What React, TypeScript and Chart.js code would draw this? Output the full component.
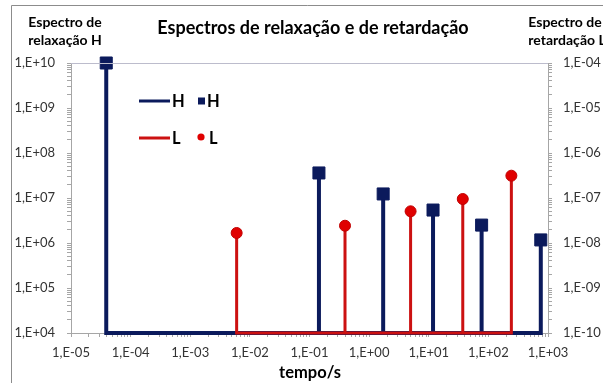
import React, { useEffect, useRef } from 'react';
import { Chart, registerables } from 'chart.js';

Chart.register(...registerables);

// ---- Data ----
const hTimes = [3.9e-5, 0.144, 1.72, 11.8, 77, 757];
const hValues = [1e10, 3.6e7, 1.23e7, 5.4e6, 2.5e6, 1.17e6];
const lTimes = [6.0e-3, 0.394, 4.96, 37.2, 243];
const lValues = [1.67e-8, 2.42e-8, 5.06e-8, 9.5e-8, 3.13e-7];
const hBase = 1e4;
const lBase = 1e-10;

const xExponents = [-5, -4, -3, -2, -1, 0, 1, 2, 3];
const yLeftExponents = [4, 5, 6, 7, 8, 9, 10];
const yRightExponents = [-10, -9, -8, -7, -6, -5, -4];

const titleText = 'Espectros de relaxação e de retardação';
const leftAxisTitle = ['Espectro de', 'relaxação H'];
const rightAxisTitle = ['Espectro de', 'retardação L'];
const xAxisTitle = 'tempo/s';
const legendLabels = ['H', 'H', 'L', 'L'];

const BLUE = '#0B1A5C';
const RED = '#CC1111';
const RED_MARK = '#E00000';
const AXIS = '#A6A6A6';
const FONT = 'Lato, "Open Sans", sans-serif';

function sciLabel(exp: number): string {
  return '1,E' + (exp < 0 ? '-' : '+') + String(Math.abs(exp)).padStart(2, '0');
}

function buildLogTicks(exps: number[]) {
  const ticks: { value: number; major?: boolean }[] = [];
  exps.forEach((e, i) => {
    ticks.push({ value: Number('1e' + e), major: true });
    if (i < exps.length - 1) {
      for (let m = 2; m <= 9; m++) ticks.push({ value: Number(m + 'e' + e) });
    }
  });
  return ticks;
}

function labelFor(value: number): string {
  const l = Math.log10(value);
  const r = Math.round(l);
  return Math.abs(l - r) < 1e-9 ? sciLabel(r) : '';
}

function stem(times: number[], values: number[], base: number) {
  return times.flatMap((t, i) => [
    { x: t, y: base },
    { x: t, y: values[i] },
    { x: t, y: base },
  ]);
}

const decorPlugin = {
  id: 'decor',
  afterDraw(chart: any) {
    const ctx = chart.ctx;
    const ca = chart.chartArea;
    ctx.save();
    // outer border
    ctx.strokeStyle = '#8C8C8C';
    ctx.lineWidth = 1;
    ctx.beginPath();
    ctx.moveTo(11.5, 383);
    ctx.lineTo(11.5, 5.5);
    ctx.lineTo(603, 5.5);
    ctx.stroke();
    // top line of plot area
    ctx.strokeStyle = '#BCBCCC';
    ctx.beginPath();
    ctx.moveTo(ca.left, ca.top + 0.5);
    ctx.lineTo(ca.right, ca.top + 0.5);
    ctx.stroke();

    ctx.fillStyle = '#000';
    ctx.textAlign = 'center';
    ctx.textBaseline = 'middle';
    ctx.font = 'bold 18px ' + FONT;
    ctx.fillText(titleText, 313, 28);
    ctx.font = 'bold 14px ' + FONT;
    ctx.fillText(leftAxisTitle[0], 65, 22);
    ctx.fillText(leftAxisTitle[1], 65, 40);
    ctx.fillText(rightAxisTitle[0], 565, 22);
    ctx.fillText(rightAxisTitle[1], 567, 40);
    ctx.font = 'bold 16.5px ' + FONT;
    ctx.fillText(xAxisTitle, 310, 373);

    // legend
    ctx.textAlign = 'left';
    ctx.font = 'bold 16.5px ' + FONT;
    const rows = [
      { y: 101, color: BLUE, mark: BLUE, style: 'rect' },
      { y: 138, color: RED, mark: RED_MARK, style: 'circle' },
    ];
    rows.forEach((r, i) => {
      ctx.strokeStyle = r.color;
      ctx.lineWidth = 3;
      ctx.beginPath();
      ctx.moveTo(139, r.y);
      ctx.lineTo(170, r.y);
      ctx.stroke();
      ctx.fillStyle = '#000';
      ctx.fillText(legendLabels[i * 2], 172, r.y + 1);
      ctx.fillStyle = r.mark;
      if (r.style === 'rect') {
        ctx.fillRect(198, r.y - 3.5, 7, 7);
      } else {
        ctx.beginPath();
        ctx.arc(201, r.y - 1, 3.6, 0, Math.PI * 2);
        ctx.fill();
      }
      ctx.fillStyle = '#000';
      ctx.fillText(legendLabels[i * 2 + 1], i === 0 ? 207 : 209, r.y + 1);
    });
    ctx.restore();
  },
};

function axisCommon() {
  return {
    type: 'logarithmic' as const,
    grid: {
      display: true,
      drawOnChartArea: false,
      drawTicks: true,
      tickLength: 4,
      color: AXIS,
    },
    border: { display: true, color: AXIS, width: 1 },
  };
}

export default function App() {
  const ref = useRef<HTMLCanvasElement>(null);
  useEffect(() => {
    if (!ref.current) return;
    const chart = new Chart(ref.current, {
      type: 'scatter',
      data: {
        datasets: [
          {
            label: 'H',
            data: stem(hTimes, hValues, hBase),
            showLine: true,
            borderColor: BLUE,
            borderWidth: 4,
            pointRadius: 0,
            xAxisID: 'x',
            yAxisID: 'yL',
            order: 3,
          },
          {
            label: 'L',
            data: stem(lTimes, lValues, lBase),
            showLine: true,
            borderColor: RED,
            borderWidth: 3,
            pointRadius: 0,
            xAxisID: 'x',
            yAxisID: 'yR',
            order: 2,
          },
          {
            label: 'H',
            data: hTimes.map((t, i) => ({ x: t, y: hValues[i] })),
            showLine: false,
            pointStyle: 'rect',
            pointRadius: 8.5,
            backgroundColor: BLUE,
            borderColor: BLUE,
            borderWidth: 1,
            xAxisID: 'x',
            yAxisID: 'yL',
            order: 1,
          },
          {
            label: 'L',
            data: lTimes.map((t, i) => ({ x: t, y: lValues[i] })),
            showLine: false,
            pointStyle: 'circle',
            pointRadius: 5.5,
            backgroundColor: RED_MARK,
            borderColor: '#C00000',
            borderWidth: 1,
            xAxisID: 'x',
            yAxisID: 'yR',
            order: 0,
          },
        ],
      } as any,
      options: {
        animation: false,
        responsive: false,
        devicePixelRatio: 1,
        clip: false as any,
        layout: { padding: { top: 63, left: 0, right: 0, bottom: 0 } },
        plugins: { legend: { display: false }, tooltip: { enabled: false }, title: { display: false } },
        scales: {
          x: {
            ...axisCommon(),
            position: 'bottom',
            min: 1e-5,
            max: 1e3,
            afterBuildTicks: (s: any) => { s.ticks = buildLogTicks(xExponents); },
            afterFit: (s: any) => { s.height = 50; },
            ticks: {
              autoSkip: false,
              maxRotation: 0,
              minRotation: 0,
              padding: 8,
              color: '#333',
              font: { family: FONT, size: 13 },
              callback: (v: any) => labelFor(Number(v)),
            },
          },
          yL: {
            ...axisCommon(),
            position: 'left',
            min: 1e4,
            max: 1e10,
            afterBuildTicks: (s: any) => { s.ticks = buildLogTicks(yLeftExponents); },
            afterFit: (s: any) => { s.width = 71; },
            ticks: {
              autoSkip: false,
              padding: 12,
              color: '#333',
              font: { family: FONT, size: 13 },
              callback: (v: any) => labelFor(Number(v)),
            },
          },
          yR: {
            ...axisCommon(),
            position: 'right',
            min: 1e-10,
            max: 1e-4,
            afterBuildTicks: (s: any) => { s.ticks = buildLogTicks(yRightExponents); },
            afterFit: (s: any) => { s.width = 55; },
            ticks: {
              autoSkip: false,
              padding: 11,
              color: '#333',
              font: { family: FONT, size: 13 },
              callback: (v: any) => labelFor(Number(v)),
            },
          },
        },
      } as any,
      plugins: [decorPlugin],
    });
    return () => chart.destroy();
  }, []);
  return (
    <div style={{ position: 'absolute', left: 0, top: 0, width: 603, height: 383, background: '#fff' }}>
      <canvas ref={ref} width={603} height={383} style={{ display: 'block' }} />
    </div>
  );
}
